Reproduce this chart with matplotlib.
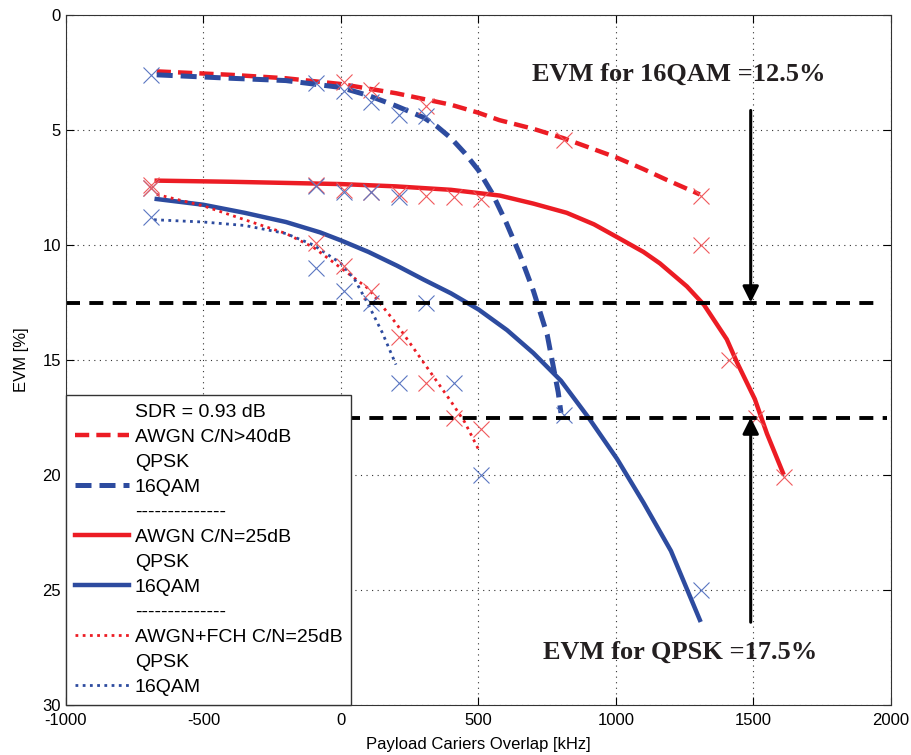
import matplotlib.pyplot as plt
from matplotlib.lines import Line2D

plt.rcParams['font.family'] = ['Liberation Sans', 'DejaVu Sans']
plt.rcParams['axes.unicode_minus'] = False

RED = '#ec1c24'
BLUE = '#2d4b9f'
RED_M = '#f0585c'
BLUE_M = '#5a76c2'

# fitted curves: overlap [kHz] vs EVM [%]
awgn40_qpsk_x = [-670, -400, -200, 0, 200, 300, 400, 500, 576, 700, 808, 900, 1003, 1100, 1185, 1305]
awgn40_qpsk_y = [2.45, 2.6, 2.75, 3.0, 3.4, 3.65, 3.9, 4.25, 4.57, 4.95, 5.35, 5.75, 6.2, 6.7, 7.17, 7.8]

awgn40_16qam_x = [-670, -400, -200, 0, 100, 200, 300, 350, 400, 450, 500, 550, 600, 650, 700, 750, 790, 800]
awgn40_16qam_y = [2.6, 2.75, 2.85, 3.15, 3.5, 3.95, 4.45, 4.85, 5.35, 6.0, 6.75, 7.75, 9.0, 10.4, 12.0, 13.9, 16.4, 17.3]

awgn25_qpsk_x = [-670, -400, -200, 0, 200, 400, 578, 700, 821, 920, 1003, 1100, 1160, 1258, 1320, 1403, 1440, 1505, 1549, 1607]
awgn25_qpsk_y = [7.2, 7.25, 7.3, 7.35, 7.45, 7.6, 7.85, 8.2, 8.6, 9.1, 9.65, 10.3, 10.8, 11.8, 12.6, 14.1, 15.1, 16.7, 18.2, 19.9]

awgn25_16qam_x = [-670, -500, -350, -200, -76, 0, 100, 204, 300, 400, 500, 604, 700, 800, 900, 1004, 1100, 1200, 1305]
awgn25_16qam_y = [8.0, 8.25, 8.6, 9.0, 9.45, 9.8, 10.3, 10.9, 11.5, 12.1, 12.8, 13.7, 14.7, 15.9, 17.5, 19.3, 21.2, 23.3, 26.3]

fch_qpsk_x = [-670, -500, -350, -200, -100, 0, 100, 200, 300, 400, 450, 505]
fch_qpsk_y = [7.8, 8.3, 8.9, 9.5, 10.1, 11.0, 11.9, 13.4, 15.1, 16.8, 17.7, 19.0]

fch_16qam_x = [-680, -500, -350, -200, -100, 0, 50, 100, 150, 200]
fch_16qam_y = [8.9, 9.0, 9.15, 9.5, 10.0, 10.8, 11.5, 12.6, 13.8, 15.2]

# simulated points
pts40_qpsk_x = [10, 110, 310, 810, 1310]
pts40_qpsk_y = [2.9, 3.25, 3.95, 5.45, 7.85]
pts40_16qam_x = [-690, -90, 10, 110, 210, 310, 810]
pts40_16qam_y = [2.6, 2.95, 3.3, 3.8, 4.35, 4.4, 17.4]
pts25_qpsk_x = [-690, -90, 10, 110, 210, 310, 410, 510, 1310, 1410, 1510, 1610]
pts25_qpsk_y = [7.4, 7.4, 7.6, 7.7, 7.8, 7.85, 7.9, 8.0, 10.0, 15.0, 17.5, 20.1]
pts25_16qam_x = [-690, -90, 10, 110, 210, 310, 410, 510, 1310]
pts25_16qam_y = [7.5, 7.45, 7.7, 7.7, 7.9, 12.5, 16.0, 20.0, 25.0]
ptsfch_qpsk_x = [-690, -90, 10, 110, 210, 310, 410, 510]
ptsfch_qpsk_y = [7.5, 9.9, 10.9, 12.0, 14.0, 16.0, 17.5, 18.0]
ptsfch_16qam_x = [-690, -90, 10, 110, 210]
ptsfch_16qam_y = [8.8, 11.0, 12.0, 12.5, 16.0]

evm_16qam = 12.5
evm_qpsk = 17.5
arrow_x = 1490

fig = plt.figure(figsize=(9.11, 7.55), dpi=100)
ax = fig.add_axes([0.0724, 0.0662, 0.9056, 0.9139])

dash_ls = (0, (3.2, 1.6))
dot_ls = (0, (1.0, 1.6))

ax.plot(awgn40_qpsk_x, awgn40_qpsk_y, color=RED, lw=3.2, ls=dash_ls)
ax.plot(awgn40_16qam_x, awgn40_16qam_y, color=BLUE, lw=3.6, ls=dash_ls)
ax.plot(awgn25_qpsk_x, awgn25_qpsk_y, color=RED, lw=3.2)
ax.plot(awgn25_16qam_x, awgn25_16qam_y, color=BLUE, lw=3.2)
ax.plot(fch_qpsk_x, fch_qpsk_y, color=RED, lw=2.0, ls=dot_ls)
ax.plot(fch_16qam_x, fch_16qam_y, color=BLUE, lw=2.0, ls=dot_ls)

mk = dict(ls='none', marker='x', ms=11, mew=0.8)
ax.plot(pts40_qpsk_x, pts40_qpsk_y, color=RED_M, **mk)
ax.plot(pts40_16qam_x, pts40_16qam_y, color=BLUE_M, **mk)
ax.plot(pts25_qpsk_x, pts25_qpsk_y, color=RED_M, **mk)
ax.plot(pts25_16qam_x, pts25_16qam_y, color=BLUE_M, **mk)
ax.plot(ptsfch_qpsk_x, ptsfch_qpsk_y, color=RED_M, **mk)
ax.plot(ptsfch_16qam_x, ptsfch_16qam_y, color=BLUE_M, **mk)

# EVM limits
ax.plot([-1000, 1960], [evm_16qam, evm_16qam], color='k', lw=2.8, ls=(0, (3.6, 2.4)))
ax.plot([-1000, 1985], [evm_qpsk, evm_qpsk], color='k', lw=2.8, ls=(0, (3.6, 2.4)))

arr = dict(arrowstyle='-|>', color='k', lw=2.2, mutation_scale=24, shrinkA=0, shrinkB=0)
ax.annotate('', xy=(arrow_x, evm_16qam), xytext=(arrow_x, 4.15), arrowprops=arr)
ax.annotate('', xy=(arrow_x, evm_qpsk), xytext=(arrow_x, 26.4), arrowprops=arr)

ax.text(1229, 2.57, 'EVM for 16QAM =%.1f%%' % evm_16qam, family='Liberation Serif',
        weight='bold', fontsize=19, ha='center', va='center', color='#231f20')
ax.text(1233, 27.7, 'EVM for QPSK =%.1f%%' % evm_qpsk, family='Liberation Serif',
        weight='bold', fontsize=19, ha='center', va='center', color='#231f20')

ax.set_xlim(-1000, 2000)
ax.set_ylim(30, 0)
ax.set_xticks(range(-1000, 2001, 500))
ax.set_yticks(range(0, 31, 5))
ax.grid(True, color='#333333', ls=(0, (1, 4)), lw=0.8)
ax.tick_params(direction='in', length=6, top=True, right=True, labelsize=12)
ax.tick_params(axis='x', pad=6)
for s in ax.spines.values():
    s.set_color('#333333')
ax.set_xlabel('Payload Cariers Overlap [kHz]', fontsize=12, labelpad=6)
ax.set_ylabel('EVM [%]', fontsize=12, labelpad=10)

blank = Line2D([], [], color='none')
handles = [
    blank,
    Line2D([], [], color=RED, lw=3.2, ls=dash_ls),
    blank,
    Line2D([], [], color=BLUE, lw=3.6, ls=dash_ls),
    blank,
    Line2D([], [], color=RED, lw=3.2),
    blank,
    Line2D([], [], color=BLUE, lw=3.2),
    blank,
    Line2D([], [], color=RED, lw=2.0, ls=dot_ls),
    blank,
    Line2D([], [], color=BLUE, lw=2.0, ls=dot_ls),
]
labels = [
    'SDR = 0.93 dB', 'AWGN C/N>40dB', 'QPSK', '16QAM',
    '--------------', 'AWGN C/N=25dB', 'QPSK', '16QAM',
    '--------------', 'AWGN+FCH C/N=25dB', 'QPSK', '16QAM',
]
leg = ax.legend(handles, labels, loc='lower left', bbox_to_anchor=(0, 0), borderaxespad=0,
                fontsize=14, labelspacing=0.38, handlelength=2.8, handletextpad=0.3,
                borderpad=0.45, fancybox=False, framealpha=1, edgecolor='#333333')
leg.get_frame().set_linewidth(1.0)

fig.savefig('out.png', dpi=100)
